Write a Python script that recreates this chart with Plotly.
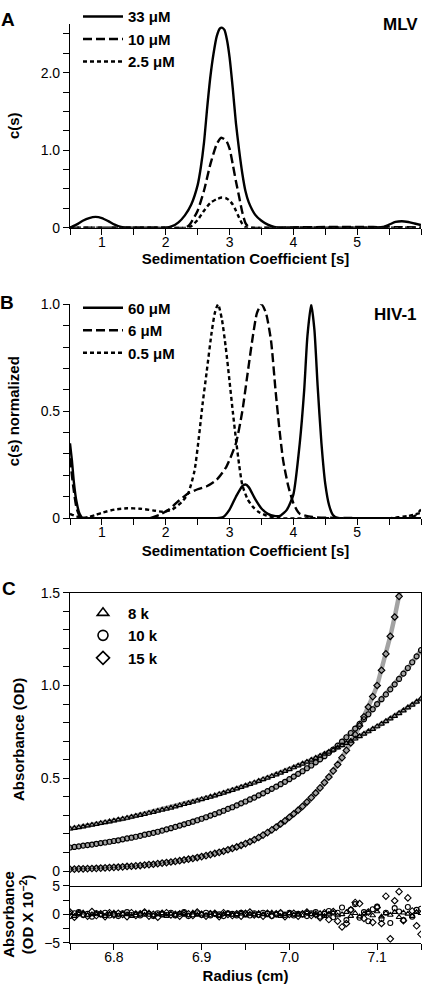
import plotly.graph_objects as go

FONT = "Liberation Sans, Arial, Helvetica, sans-serif"

# ---------------- Panel A (MLV) ----------------
mlv_s_33 = [0.5, 0.6, 0.7, 0.8, 0.9, 1.0, 1.1, 1.2, 1.3, 1.4, 1.6, 1.8, 2.0, 2.1, 2.2, 2.3, 2.4, 2.5, 2.55, 2.6,
            2.65, 2.7, 2.75, 2.8, 2.85, 2.88, 2.92, 2.96, 3.0, 3.05, 3.1, 3.15, 3.2, 3.25, 3.3, 3.4, 3.5, 3.6, 3.7, 3.8,
            4.0, 4.5, 5.0, 5.2, 5.4, 5.5, 5.6, 5.7, 5.8, 5.9, 6.0]
mlv_c_33 = [0.0, 0.04, 0.09, 0.125, 0.14, 0.125, 0.085, 0.04, 0.01, 0.0, 0.0, 0.0, 0.0, 0.02, 0.07, 0.16, 0.3, 0.55, 0.78, 1.1,
            1.55, 1.95, 2.25, 2.47, 2.57, 2.58, 2.55, 2.42, 2.2, 1.8, 1.35, 1.0, 0.7, 0.47, 0.33, 0.17, 0.09, 0.04, 0.01, 0.0,
            0.0, 0.0, 0.0, 0.0, 0.01, 0.04, 0.075, 0.085, 0.075, 0.055, 0.035]
mlv_s_10 = [0.5, 1.0, 1.5, 2.0, 2.3, 2.35, 2.4, 2.5, 2.6, 2.7, 2.8, 2.87, 2.95, 3.0, 3.05, 3.1, 3.15, 3.2, 3.25, 3.3,
            3.35, 3.6, 4.0, 4.5, 5.0, 5.5, 6.0]
mlv_c_10 = [0.0, 0.0, 0.0, 0.0, 0.0, 0.02, 0.07, 0.22, 0.48, 0.82, 1.08, 1.16, 1.12, 1.02, 0.82, 0.6, 0.4, 0.2, 0.06, 0.01,
            0.0, 0.0, 0.005, 0.01, 0.01, 0.008, 0.005]
mlv_s_25 = [0.5, 1.0, 1.5, 2.0, 2.35, 2.4, 2.5, 2.6, 2.7, 2.8, 2.88, 2.95, 3.0, 3.05, 3.1, 3.15, 3.2, 3.25, 3.3, 4.0,
            5.0, 6.0]
mlv_c_25 = [0.0, 0.0, 0.0, 0.0, 0.0, 0.02, 0.1, 0.22, 0.32, 0.37, 0.39, 0.38, 0.35, 0.3, 0.22, 0.13, 0.05, 0.01, 0.0, 0.0,
            0.0, 0.0]
mlv_names = ["33 μM", "10 μM", "2.5 μM"]

# ---------------- Panel B (HIV-1) ----------------
hiv_s_60 = [0.5, 0.53, 0.56, 0.6, 0.65, 0.7, 1.0, 2.0, 2.8, 2.9, 3.0, 3.1, 3.2, 3.25, 3.3, 3.4, 3.5, 3.6, 3.7, 3.8,
            3.9, 4.0, 4.1, 4.17, 4.22, 4.28, 4.33, 4.38, 4.44, 4.5, 4.56, 4.62, 4.7, 5.0, 6.0]
hiv_c_60 = [0.35, 0.27, 0.17, 0.08, 0.02, 0.0, 0.0, 0.0, 0.0, 0.005, 0.04, 0.1, 0.15, 0.157, 0.145, 0.09, 0.045, 0.02, 0.01, 0.012,
            0.04, 0.11, 0.35, 0.6, 0.85, 1.0, 0.88, 0.62, 0.35, 0.16, 0.06, 0.015, 0.0, 0.0, 0.0]
hiv_s_6 = [0.5, 0.55, 0.6, 0.65, 0.7, 1.0, 1.5, 1.75, 1.9, 2.05, 2.2, 2.35, 2.5, 2.65, 2.8, 2.95, 3.1, 3.2, 3.28, 3.36,
           3.43, 3.5, 3.57, 3.65, 3.72, 3.78, 3.84, 3.92, 4.0, 4.05, 4.1, 4.3, 5.0, 5.8, 5.9, 6.0]
hiv_c_6 = [0.28, 0.15, 0.05, 0.01, 0.0, 0.0, 0.0, 0.0, 0.015, 0.04, 0.08, 0.115, 0.135, 0.15, 0.18, 0.24, 0.35, 0.5, 0.67, 0.84,
           0.96, 1.0, 0.96, 0.83, 0.6, 0.42, 0.27, 0.15, 0.07, 0.04, 0.02, 0.005, 0.0, 0.0, 0.01, 0.04]
hiv_s_05 = [0.5, 0.6, 0.7, 0.8, 0.9, 1.0, 1.2, 1.4, 1.6, 1.8, 1.95, 2.1, 2.25, 2.35, 2.45, 2.52, 2.58, 2.64, 2.72, 2.77,
            2.82, 2.88, 2.94, 3.0, 3.05, 3.1, 3.15, 3.2, 3.28, 3.36, 3.45, 3.58, 3.75, 4.5, 5.5, 5.8, 6.0]
hiv_c_05 = [0.02, 0.008, 0.002, 0.006, 0.015, 0.025, 0.04, 0.046, 0.044, 0.036, 0.03, 0.04, 0.075, 0.115, 0.22, 0.38, 0.54, 0.68, 0.87, 0.96,
            1.0, 0.93, 0.8, 0.64, 0.5, 0.37, 0.25, 0.155, 0.09, 0.055, 0.03, 0.012, 0.0, 0.0, 0.0, 0.01, 0.025]
hiv_names = ["60 μM", "6 μM", "0.5 μM"]

# ---------------- Panel C (equilibrium) ----------------
radius = [6.750, 6.755, 6.760, 6.765, 6.770, 6.775, 6.780, 6.785, 6.790, 6.795,
          6.800, 6.805, 6.810, 6.815, 6.820, 6.825, 6.830, 6.835, 6.840, 6.845,
          6.850, 6.855, 6.860, 6.865, 6.870, 6.875, 6.880, 6.885, 6.890, 6.895,
          6.900, 6.905, 6.910, 6.915, 6.920, 6.925, 6.930, 6.935, 6.940, 6.945,
          6.950, 6.955, 6.960, 6.965, 6.970, 6.975, 6.980, 6.985, 6.990, 6.995,
          7.000, 7.005, 7.010, 7.015, 7.020, 7.025, 7.030, 7.035, 7.040, 7.045,
          7.050, 7.055, 7.060, 7.065, 7.070, 7.075, 7.080, 7.085, 7.090, 7.095,
          7.100, 7.105, 7.110, 7.115, 7.120, 7.125, 7.130, 7.135, 7.140, 7.145, 7.150]
abs_8k = [0.228, 0.232, 0.236, 0.240, 0.245, 0.249, 0.253, 0.258, 0.262, 0.267,
          0.272, 0.277, 0.281, 0.286, 0.292, 0.297, 0.302, 0.307, 0.313, 0.318,
          0.324, 0.330, 0.335, 0.341, 0.347, 0.354, 0.360, 0.366, 0.373, 0.379,
          0.386, 0.393, 0.400, 0.407, 0.414, 0.421, 0.429, 0.436, 0.444, 0.452,
          0.460, 0.468, 0.476, 0.485, 0.494, 0.502, 0.511, 0.520, 0.529, 0.539,
          0.548, 0.558, 0.568, 0.578, 0.588, 0.599, 0.609, 0.620, 0.631, 0.642,
          0.653, 0.665, 0.677, 0.689, 0.701, 0.713, 0.726, 0.739, 0.752, 0.765,
          0.779, 0.793, 0.807, 0.821, 0.835, 0.850, 0.865, 0.881, 0.896, 0.912, 0.928]
abs_10k = [0.127, 0.130, 0.133, 0.137, 0.140, 0.143, 0.147, 0.151, 0.154, 0.158,
           0.162, 0.166, 0.171, 0.176, 0.180, 0.185, 0.190, 0.196, 0.201, 0.206,
           0.212, 0.218, 0.225, 0.231, 0.238, 0.245, 0.252, 0.259, 0.266, 0.274,
           0.282, 0.290, 0.299, 0.307, 0.316, 0.325, 0.335, 0.344, 0.354, 0.365,
           0.375, 0.386, 0.396, 0.408, 0.419, 0.431, 0.443, 0.455, 0.468, 0.481,
           0.495, 0.509, 0.524, 0.538, 0.554, 0.569, 0.586, 0.602, 0.619, 0.637,
           0.655, 0.676, 0.698, 0.721, 0.744, 0.768, 0.793, 0.818, 0.845, 0.872,
           0.900, 0.926, 0.952, 0.979, 1.006, 1.035, 1.064, 1.094, 1.125, 1.157, 1.190]
abs_15k = [0.010, 0.011, 0.012, 0.012, 0.013, 0.014, 0.015, 0.016, 0.017, 0.019,
           0.020, 0.021, 0.023, 0.025, 0.026, 0.028, 0.030, 0.033, 0.035, 0.037,
           0.040, 0.043, 0.046, 0.049, 0.052, 0.056, 0.060, 0.064, 0.068, 0.073,
           0.078, 0.083, 0.089, 0.095, 0.101, 0.107, 0.115, 0.122, 0.130, 0.139,
           0.148, 0.158, 0.169, 0.181, 0.194, 0.207, 0.222, 0.237, 0.254, 0.271,
           0.290, 0.309, 0.328, 0.349, 0.372, 0.396, 0.421, 0.448, 0.477, 0.507,
           0.540, 0.574, 0.611, 0.650, 0.691, 0.735, 0.782, 0.831, 0.884, 0.940,
           1.000, 1.082, 1.170, 1.265, 1.369, 1.480, 1.600]
res_8k = [0.2, -0.3, 0.1, 0.3, -0.2, 0.0, 0.2, -0.1, -0.3, 0.1,
          0.3, -0.2, 0.1, 0.0, -0.3, 0.2, 0.1, -0.1, 0.3, -0.2,
          0.0, 0.2, -0.3, 0.1, -0.1, 0.2, 0.0, -0.2, 0.3, -0.1,
          0.1, -0.2, 0.2, 0.0, -0.3, 0.1, 0.2, -0.1, 0.0, 0.3,
          -0.2, 0.1, -0.1, 0.2, 0.0, -0.2, 0.3, 0.1, -0.3, 0.0,
          0.2, -0.1, 0.1, -0.2, 0.3, 0.0, -0.1, 0.2, -0.3, 0.1,
          0.3, -0.2, 0.0, 0.4, -0.3, 0.2, -0.4, 0.1, 0.3, -0.2,
          0.5, -0.4, 0.2, -0.1, 0.4, -0.5, 0.3, 0.1, -0.3, 0.4, 0.2]
res_10k = [-0.3, 0.2, 0.4, -0.1, 0.1, -0.4, 0.2, 0.0, 0.3, -0.2,
           0.1, -0.3, 0.2, 0.4, -0.1, 0.0, -0.2, 0.3, 0.1, -0.3,
           0.2, 0.0, -0.1, 0.3, -0.2, 0.1, 0.4, -0.3, 0.0, 0.2,
           -0.1, 0.3, -0.2, 0.1, 0.0, -0.3, 0.2, 0.1, -0.2, 0.3,
           0.0, -0.2, 0.2, -0.1, 0.3, 0.1, -0.3, 0.0, 0.2, -0.1,
           0.3, -0.2, 0.1, 0.0, -0.3, 0.2, 0.4, -0.4, 0.1, 0.6,
           -0.5, 0.3, 1.2, -1.0, 0.8, 1.8, -0.6, 0.4, -1.2, 0.9,
           1.4, -0.8, 0.3, -1.5, 1.1, 0.5, -1.0, 1.3, -0.4, 0.8, 1.0]
res_15k = [0.4, -0.5, 0.2, 0.0, -0.3, 0.5, -0.2, 0.1, -0.4, 0.3,
           -0.1, 0.2, 0.0, -0.4, 0.3, -0.2, 0.1, 0.4, -0.3, 0.0,
           -0.5, 0.2, 0.3, -0.1, 0.0, -0.3, 0.2, 0.1, -0.2, 0.4,
           0.0, -0.3, 0.1, 0.2, -0.4, 0.3, 0.0, -0.2, 0.1, -0.3,
           0.2, 0.4, -0.1, 0.0, -0.3, 0.2, -0.2, 0.1, 0.3, -0.4,
           0.0, 0.2, -0.3, 0.1, 0.4, -0.2, 0.0, -0.6, 0.3, -0.9,
           0.5, -1.2, -2.2, -1.6, 0.8, 2.1, 1.9, -0.7, 0.4, -1.4,
           1.2, -1.6, 3.2, -4.3, 2.4, 4.0, -1.1, 2.9, 0.6, -2.0, -3.5]
speed_names = ["8 k", "10 k", "15 k"]

# tick labels
a_tickvals = [0, 1, 2]
a_ticktext = ["0", "1.0", "2.0"]
b_tickvals = [0, 0.5, 1.0]
b_ticktext = ["0", "0.5", "1.0"]
s_tickvals = [1, 2, 3, 4, 5, 6]
c_tickvals = [0, 0.5, 1.0, 1.5]
c_ticktext = ["0", "0.5", "1.0", "1.5"]
r_tickvals = [-5, 0, 5]
r_ticktext = ["−5", "0", "5"]
rad_tickvals = [6.8, 6.9, 7.0, 7.1]
rad_ticktext = ["6.8", "6.9", "7.0", "7.1"]

W, H = 425, 994


def px_x(p):
    return p / W


def px_y(p):
    return 1 - p / H


fig = go.Figure()

dashes = ["solid", "9px,4px", "4px,3px"]
LW = 2.4

for (xs, ys), name, dsh in zip([(mlv_s_33, mlv_c_33), (mlv_s_10, mlv_c_10), (mlv_s_25, mlv_c_25)], mlv_names, dashes):
    fig.add_trace(go.Scatter(x=xs, y=ys, mode="lines", name="<b>" + name + "</b>",
                             line=dict(color="black", width=LW, dash=dsh, shape="spline", smoothing=0.6),
                             xaxis="x", yaxis="y", legend="legend"))

for (xs, ys), name, dsh in zip([(hiv_s_60, hiv_c_60), (hiv_s_6, hiv_c_6), (hiv_s_05, hiv_c_05)], hiv_names, dashes):
    fig.add_trace(go.Scatter(x=xs, y=ys, mode="lines", name="<b>" + name + "</b>",
                             line=dict(color="black", width=LW, dash=dsh, shape="spline", smoothing=0.6),
                             xaxis="x2", yaxis="y2", legend="legend2"))

series_c = [(radius, abs_8k, res_8k, "triangle-up-open"),
            (radius, abs_10k, res_10k, "circle-open"),
            (radius[:len(abs_15k)], abs_15k, res_15k, "diamond-open")]

# grey fit lines
for xs, ys, _, _ in series_c:
    fig.add_trace(go.Scatter(x=xs, y=ys, mode="lines", showlegend=False, hoverinfo="skip",
                             line=dict(color="#a3a3a3", width=4.5), xaxis="x3", yaxis="y3"))
# data markers
for (xs, ys, res, sym), name in zip(series_c, speed_names):
    fig.add_trace(go.Scatter(x=xs, y=ys, mode="markers", showlegend=False, name=name,
                             marker=dict(symbol=sym, size=5, color="black", line=dict(color="black", width=1.2)),
                             xaxis="x3", yaxis="y3"))
# residuals
for (xs, ys, res, sym), name in zip(series_c, speed_names):
    fig.add_trace(go.Scatter(x=radius, y=res, mode="markers", showlegend=False, name=name,
                             marker=dict(symbol=sym, size=5, color="black", line=dict(color="black", width=1.1)),
                             xaxis="x4", yaxis="y4"))
# legend entries for panel C
for (xs, ys, res, sym), name in zip(series_c, speed_names):
    fig.add_trace(go.Scatter(x=[None], y=[None], mode="markers", name="<b>" + name + "</b>",
                             marker=dict(symbol=sym, size=10, color="black", line=dict(color="black", width=1.6)),
                             xaxis="x3", yaxis="y3", legend="legend3"))

tickfont = dict(family=FONT, size=14, color="black")
titlefont = dict(family=FONT, size=15, color="black")


def axis(**kw):
    d = dict(showgrid=False, zeroline=False, showline=True, linecolor="black", linewidth=1.2,
             ticks="outside", ticklen=6, tickwidth=1.2, tickcolor="black", tickfont=tickfont)
    d.update(kw)
    return d


def minor(dt, t0=0):
    return dict(ticks="outside", ticklen=6, tickwidth=1.2, tickcolor="black", dtick=dt, tick0=t0, showgrid=False)


xdom = [px_x(70), px_x(421)]
XSO = -5    # tick-label standoff on x axes

fig.update_layout(
    width=W, height=H, margin=dict(l=0, r=0, t=0, b=0),
    paper_bgcolor="white", plot_bgcolor="white",
    font=dict(family=FONT, color="black"),
    xaxis=axis(domain=xdom, anchor="y", range=[0.5, 6], tickvals=s_tickvals, minor=minor(0.5),
               ticklabelstandoff=XSO,
               title=dict(text="<b>Sedimentation Coefficient [s]</b>", font=titlefont, standoff=4)),
    yaxis=axis(domain=[px_y(221), px_y(13)], anchor="x", range=[0, 2.63], tickvals=a_tickvals,
               ticktext=a_ticktext, minor=minor(0.25),
               title=dict(text="<b>c(s)</b>", font=titlefont, standoff=17)),
    xaxis2=axis(domain=xdom, anchor="y2", range=[0.5, 6], tickvals=s_tickvals, minor=minor(0.5),
                ticklabelstandoff=XSO,
                title=dict(text="<b>Sedimentation Coefficient [s]</b>", font=titlefont, standoff=6)),
    yaxis2=axis(domain=[px_y(517), px_y(299)], anchor="x2", range=[0, 1.0], tickvals=b_tickvals,
                ticktext=b_ticktext, minor=minor(0.1),
                title=dict(text="<b>c(s) normalized</b>", font=titlefont, standoff=17)),
    xaxis3=axis(domain=xdom, anchor="y3", range=[6.75, 7.15], matches="x4", showticklabels=False,
                ticks="", mirror=True),
    yaxis3=axis(domain=[px_y(892), px_y(593)], anchor="x3", range=[-0.08, 1.5], tickvals=c_tickvals,
                ticktext=c_ticktext, minor=minor(0.1), mirror=True,
                title=dict(text="<b>Absorbance (OD)</b>", font=titlefont, standoff=12)),
    xaxis4=axis(domain=xdom, anchor="y4", range=[6.75, 7.15], tickvals=rad_tickvals, ticktext=rad_ticktext,
                minor=minor(0.05, 6.75), ticklabelstandoff=XSO,
                title=dict(text="<b>Radius (cm)</b>", font=titlefont, standoff=6)),
    yaxis4=axis(domain=[px_y(950), px_y(892)], anchor="x4", range=[-5, 5], tickvals=r_tickvals,
                ticktext=r_ticktext, minor=minor(2.5),
                title=dict(text="<b>Absorbance<br>(OD X 10<sup>−2</sup>)</b>", font=titlefont, standoff=10)),
    legend=dict(x=px_x(78), y=px_y(-11), xanchor="left", yanchor="top", bgcolor="rgba(0,0,0,0)",
                font=dict(family=FONT, size=15, color="black"), itemwidth=40, tracegroupgap=0),
    legend2=dict(x=px_x(78), y=px_y(286), xanchor="left", yanchor="top", bgcolor="rgba(0,0,0,0)",
                 font=dict(family=FONT, size=15, color="black"), itemwidth=40, tracegroupgap=0),
    legend3=dict(x=px_x(78), y=px_y(597), xanchor="left", yanchor="top", bgcolor="rgba(0,0,0,0)",
                 font=dict(family=FONT, size=15, color="black"), itemwidth=40, tracegroupgap=0),
    showlegend=True,
)

annots = [
    ("<b>A</b>", 8, 9, 19),
    ("<b>B</b>", 7, 297, 19),
    ("<b>C</b>", 9, 589, 19),
    ("<b>MLV</b>", 400, 14, 17),
    ("<b>HIV-1</b>", 395, 309, 17),
]
for txt, x, y, sz in annots:
    fig.add_annotation(text=txt, x=px_x(x), y=px_y(y), xref="paper", yref="paper", showarrow=False,
                       xanchor="center", yanchor="middle", font=dict(family=FONT, size=sz, color="black"))

fig.write_html("out.html", config={"displayModeBar": False},
               post_script="document.body.style.margin='0';document.body.style.overflow='hidden';")
